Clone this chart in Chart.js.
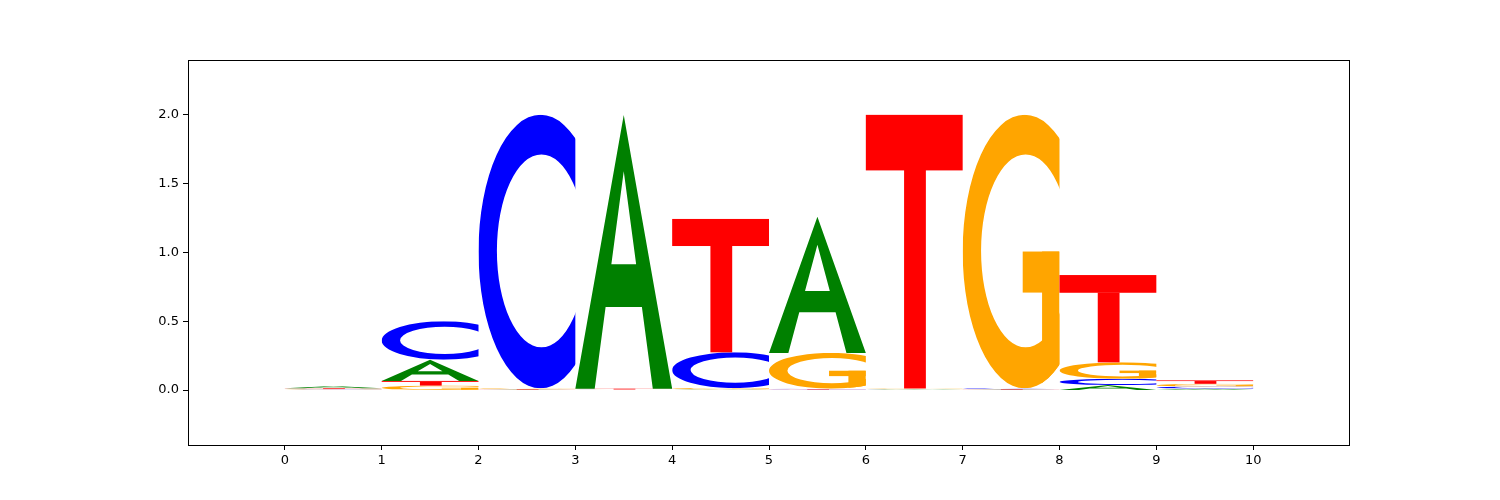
<!DOCTYPE html>
<html>
<head>
<meta charset="utf-8">
<script src="https://cdn.jsdelivr.net/npm/chart.js@4/dist/chart.umd.min.js"></script>
<style>
html,body{margin:0;padding:0;background:#fff;}
canvas{display:block;}
</style>
</head>
<body>
<canvas id="c" width="1500" height="500"></canvas>
<script>
// Sequence logo data: one value per position (column spans [p, p+1])
const positions = [0, 1, 2, 3, 4, 5, 6, 7, 8, 9];
const letterA = [0.017, 0.154, 0.002, 1.990, 0.004, 0.990, 0.003, 0.002, 0.036, 0.010];
const letterC = [0.003, 0.280, 1.990, 0.002, 0.260, 0.006, 0.002, 0.006, 0.045, 0.015];
const letterG = [0.004, 0.032, 0.006, 0.002, 0.010, 0.260, 0.006, 1.990, 0.120, 0.020];
const letterT = [0.006, 0.034, 0.004, 0.006, 0.970, 0.004, 1.990, 0.004, 0.635, 0.025];
const xTicks = [0, 1, 2, 3, 4, 5, 6, 7, 8, 9, 10];
const yTicks = [0.0, 0.5, 1.0, 1.5, 2.0];

const letters = [
  {ch: 'A', vals: letterA, color: '#008000'},
  {ch: 'C', vals: letterC, color: '#0000ff'},
  {ch: 'G', vals: letterG, color: '#ffa500'},
  {ch: 'T', vals: letterT, color: '#ff0000'}
];

// Glyph outlines in a unit box (x: 0..1 left->right, y: 0..1 top->bottom)
function ring(ctx) {
  ctx.beginPath();
  ctx.ellipse(0.64, 0.5, 0.64, 0.5, 0, 0, Math.PI * 2);
  ctx.ellipse(0.65, 0.4975, 0.46, 0.3525, 0, 0, Math.PI * 2, true);
}
const glyphs = {
  A(ctx) {
    ctx.beginPath();
    ctx.moveTo(0, 1); ctx.lineTo(0.5, 0); ctx.lineTo(1, 1); ctx.closePath();
    ctx.moveTo(0.2, 1); ctx.lineTo(0.3126, 0.702); ctx.lineTo(0.6874, 0.702); ctx.lineTo(0.8, 1); ctx.closePath();
    ctx.moveTo(0.372, 0.545); ctx.lineTo(0.5, 0.206); ctx.lineTo(0.628, 0.545); ctx.closePath();
    ctx.fill('evenodd');
  },
  C(ctx) {
    ctx.save();
    ctx.beginPath(); ctx.rect(0, 0, 1, 1); ctx.clip();
    ring(ctx);
    ctx.fill('evenodd');
    ctx.restore();
  },
  G(ctx) {
    ctx.save();
    ctx.beginPath(); ctx.rect(0, 0, 1, 1); ctx.clip();
    ring(ctx);
    ctx.fill('evenodd');
    ctx.beginPath();
    ctx.ellipse(0.64, 0.5, 0.64, 0.5, 0, 0, Math.PI * 2);
    ctx.clip();
    ctx.fillRect(0.62, 0.5, 0.38, 0.15);
    ctx.fillRect(0.82, 0.5, 0.18, 0.5);
    ctx.restore();
  },
  T(ctx) {
    ctx.fillRect(0, 0, 1, 0.203);
    ctx.fillRect(0.395, 0.2, 0.225, 0.8);
  }
};

const logoPlugin = {
  id: 'logo',
  afterDatasetsDraw(chart) {
    const ctx = chart.ctx;
    const xs = chart.scales.x, ys = chart.scales.y;
    const ca = chart.chartArea;
    ctx.save();
    ctx.beginPath();
    ctx.rect(ca.left, ca.top, ca.right - ca.left, ca.bottom - ca.top);
    ctx.clip();
    positions.forEach((p, i) => {
      const stack = letters.map(l => ({ch: l.ch, v: l.vals[i], color: l.color}))
        .sort((a, b) => a.v - b.v);
      let base = 0;
      const xl = xs.getPixelForValue(p);
      const xr = xs.getPixelForValue(p + 1);
      stack.forEach(s => {
        const yb = ys.getPixelForValue(base);
        const yt = ys.getPixelForValue(base + s.v);
        base += s.v;
        const h = yb - yt;
        if (h <= 0) return;
        ctx.save();
        ctx.translate(xl, yt);
        ctx.scale(xr - xl, h);
        ctx.fillStyle = s.color;
        glyphs[s.ch](ctx);
        ctx.restore();
      });
    });
    ctx.restore();
    // frame
    ctx.save();
    ctx.strokeStyle = '#000';
    ctx.lineWidth = 1;
    ctx.strokeRect(Math.round(ca.left) + 0.5, Math.round(ca.top) + 0.5,
      Math.round(ca.right - ca.left) - 1, Math.round(ca.bottom - ca.top));
    ctx.restore();
  }
};

new Chart(document.getElementById('c'), {
  type: 'scatter',
  data: { datasets: [{ data: [], showLine: false }] },
  options: {
    responsive: false,
    animation: false,
    events: [],
    layout: { padding: { left: 0, right: 150, top: 60, bottom: 0 } },
    plugins: { legend: { display: false }, tooltip: { enabled: false } },
    scales: {
      x: {
        type: 'linear', min: -1, max: 11,
        afterBuildTicks: (s) => { s.ticks = xTicks.map(v => ({value: v})); },
        afterFit: (s) => { s.height = 55; },
        grid: { display: true, drawOnChartArea: false, drawTicks: true, tickLength: 5, color: '#000', tickColor: '#000' },
        border: { display: false },
        ticks: { color: '#000', font: { family: 'DejaVu Sans', size: 13 }, padding: 3, maxRotation: 0, autoSkip: false,
          callback: (v) => String(v) }
      },
      y: {
        type: 'linear', min: -0.4, max: 2.4,
        afterBuildTicks: (s) => { s.ticks = yTicks.map(v => ({value: v})); },
        afterFit: (s) => { s.width = 188; },
        grid: { display: true, drawOnChartArea: false, drawTicks: true, tickLength: 5, color: '#000', tickColor: '#000' },
        border: { display: false },
        ticks: { color: '#000', font: { family: 'DejaVu Sans', size: 13 }, padding: 4, autoSkip: false,
          callback: (v) => Number(v).toFixed(1) }
      }
    }
  },
  plugins: [logoPlugin]
});
</script>
</body>
</html>
